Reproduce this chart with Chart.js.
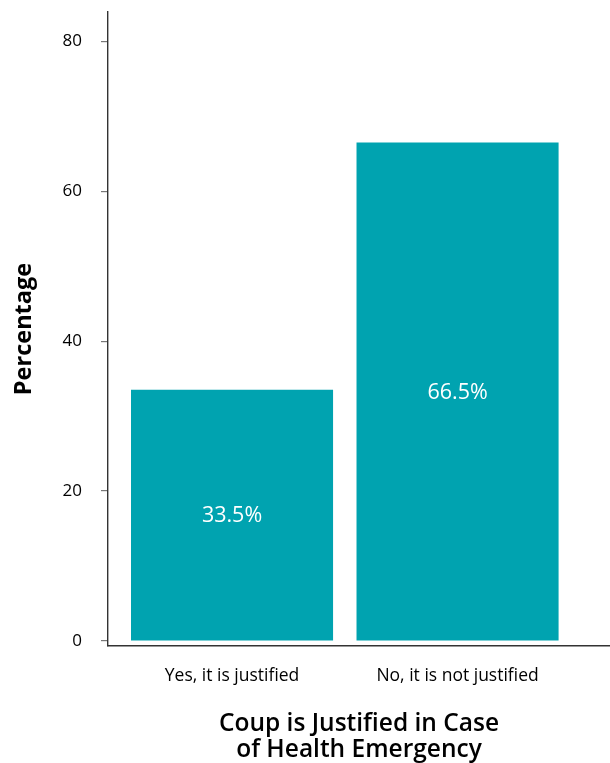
<!DOCTYPE html>
<html>
<head>
<meta charset="utf-8">
<script src="https://cdn.jsdelivr.net/npm/chart.js@4/dist/chart.umd.min.js"></script>
<style>
  html, body { margin: 0; padding: 0; background: #fff; }
  #wrap { width: 610px; height: 763px; }
</style>
</head>
<body>
<div id="wrap"><canvas id="chart" width="610" height="763"></canvas></div>
<script>
const categories = ['Yes, it is justified', 'No, it is not justified']
const values = [33.5, 66.5]
const yTicks = [0, 20, 40, 60, 80]

const BAR = '#00A3B0'
const FONT = "'Open Sans', 'Noto Sans', sans-serif"

// white % labels in the middle of each bar
const barLabels = {
    id: 'barLabels',
    afterDatasetsDraw(chart) {
        const ctx = chart.ctx
        ctx.save()
        ctx.fillStyle = '#fff'
        ctx.font = `21.5px ${FONT}`
        ctx.textAlign = 'center'
        ctx.textBaseline = 'middle'
        chart.getDatasetMeta(0).data.forEach((bar, i) => {
            ctx.fillText(values[i].toFixed(1) + '%', bar.x, (bar.y + bar.base) / 2 + 1)
        })
        ctx.restore()
    }
}

new Chart(document.getElementById('chart'), {
    type: 'bar',
    data: {
        datasets: [{
            data: values.map((v, i) => ({ x: i + 1, y: v })),
            backgroundColor: BAR,
            borderWidth: 0,
            categoryPercentage: 1,
            barPercentage: 0.896,
        }]
    },
    options: {
        responsive: false,
        animation: false,
        layout: { padding: { top: 12, right: 0, bottom: 0, left: 0 } },
        plugins: { legend: { display: false }, tooltip: { enabled: false } },
        scales: {
            x: {
                type: 'linear',
                min: 0.45,
                max: 2.676,
                bounds: 'data',
                offset: false,
                afterBuildTicks: s => { s.ticks = categories.map((c, i) => ({ value: i + 1 })) },
                afterFit: s => { s.height = 117; s.paddingLeft = 0; s.paddingRight = 0 },
                grid: { display: false, offset: false },
                border: { display: true, color: '#333', width: 1.4 },
                ticks: {
                    callback: v => categories[v - 1],
                    color: '#000',
                    font: { family: FONT, size: 17.5 },
                    padding: 12,
                    maxRotation: 0,
                    autoSkip: false,
                },
                title: {
                    display: true,
                    text: ['Coup is Justified in Case', 'of Health Emergency'],
                    color: '#000',
                    font: { family: FONT, size: 24.5, weight: '600', lineHeight: 1.05 },
                    padding: { top: 0, bottom: 0 },
                }
            },
            y: {
                min: -0.667,
                max: 83.9,
                afterBuildTicks: s => { s.ticks = yTicks.map(v => ({ value: v })) },
                afterFit: s => { s.width = 108; s.paddingTop = 0; s.paddingBottom = 0 },
                grid: { drawOnChartArea: false, drawTicks: true, tickLength: 7, color: '#777', lineWidth: 1.2 },
                border: { display: true, color: '#333', width: 1.4 },
                ticks: {
                    color: '#000',
                    font: { family: FONT, size: 17 },
                    padding: 19,
                },
                title: {
                    display: true,
                    text: 'Percentage',
                    color: '#000',
                    font: { family: FONT, size: 23.5, weight: '700' },
                    padding: { top: 10, bottom: 0 },
                }
            }
        }
    },
    plugins: [barLabels]
})
</script>
</body>
</html>
